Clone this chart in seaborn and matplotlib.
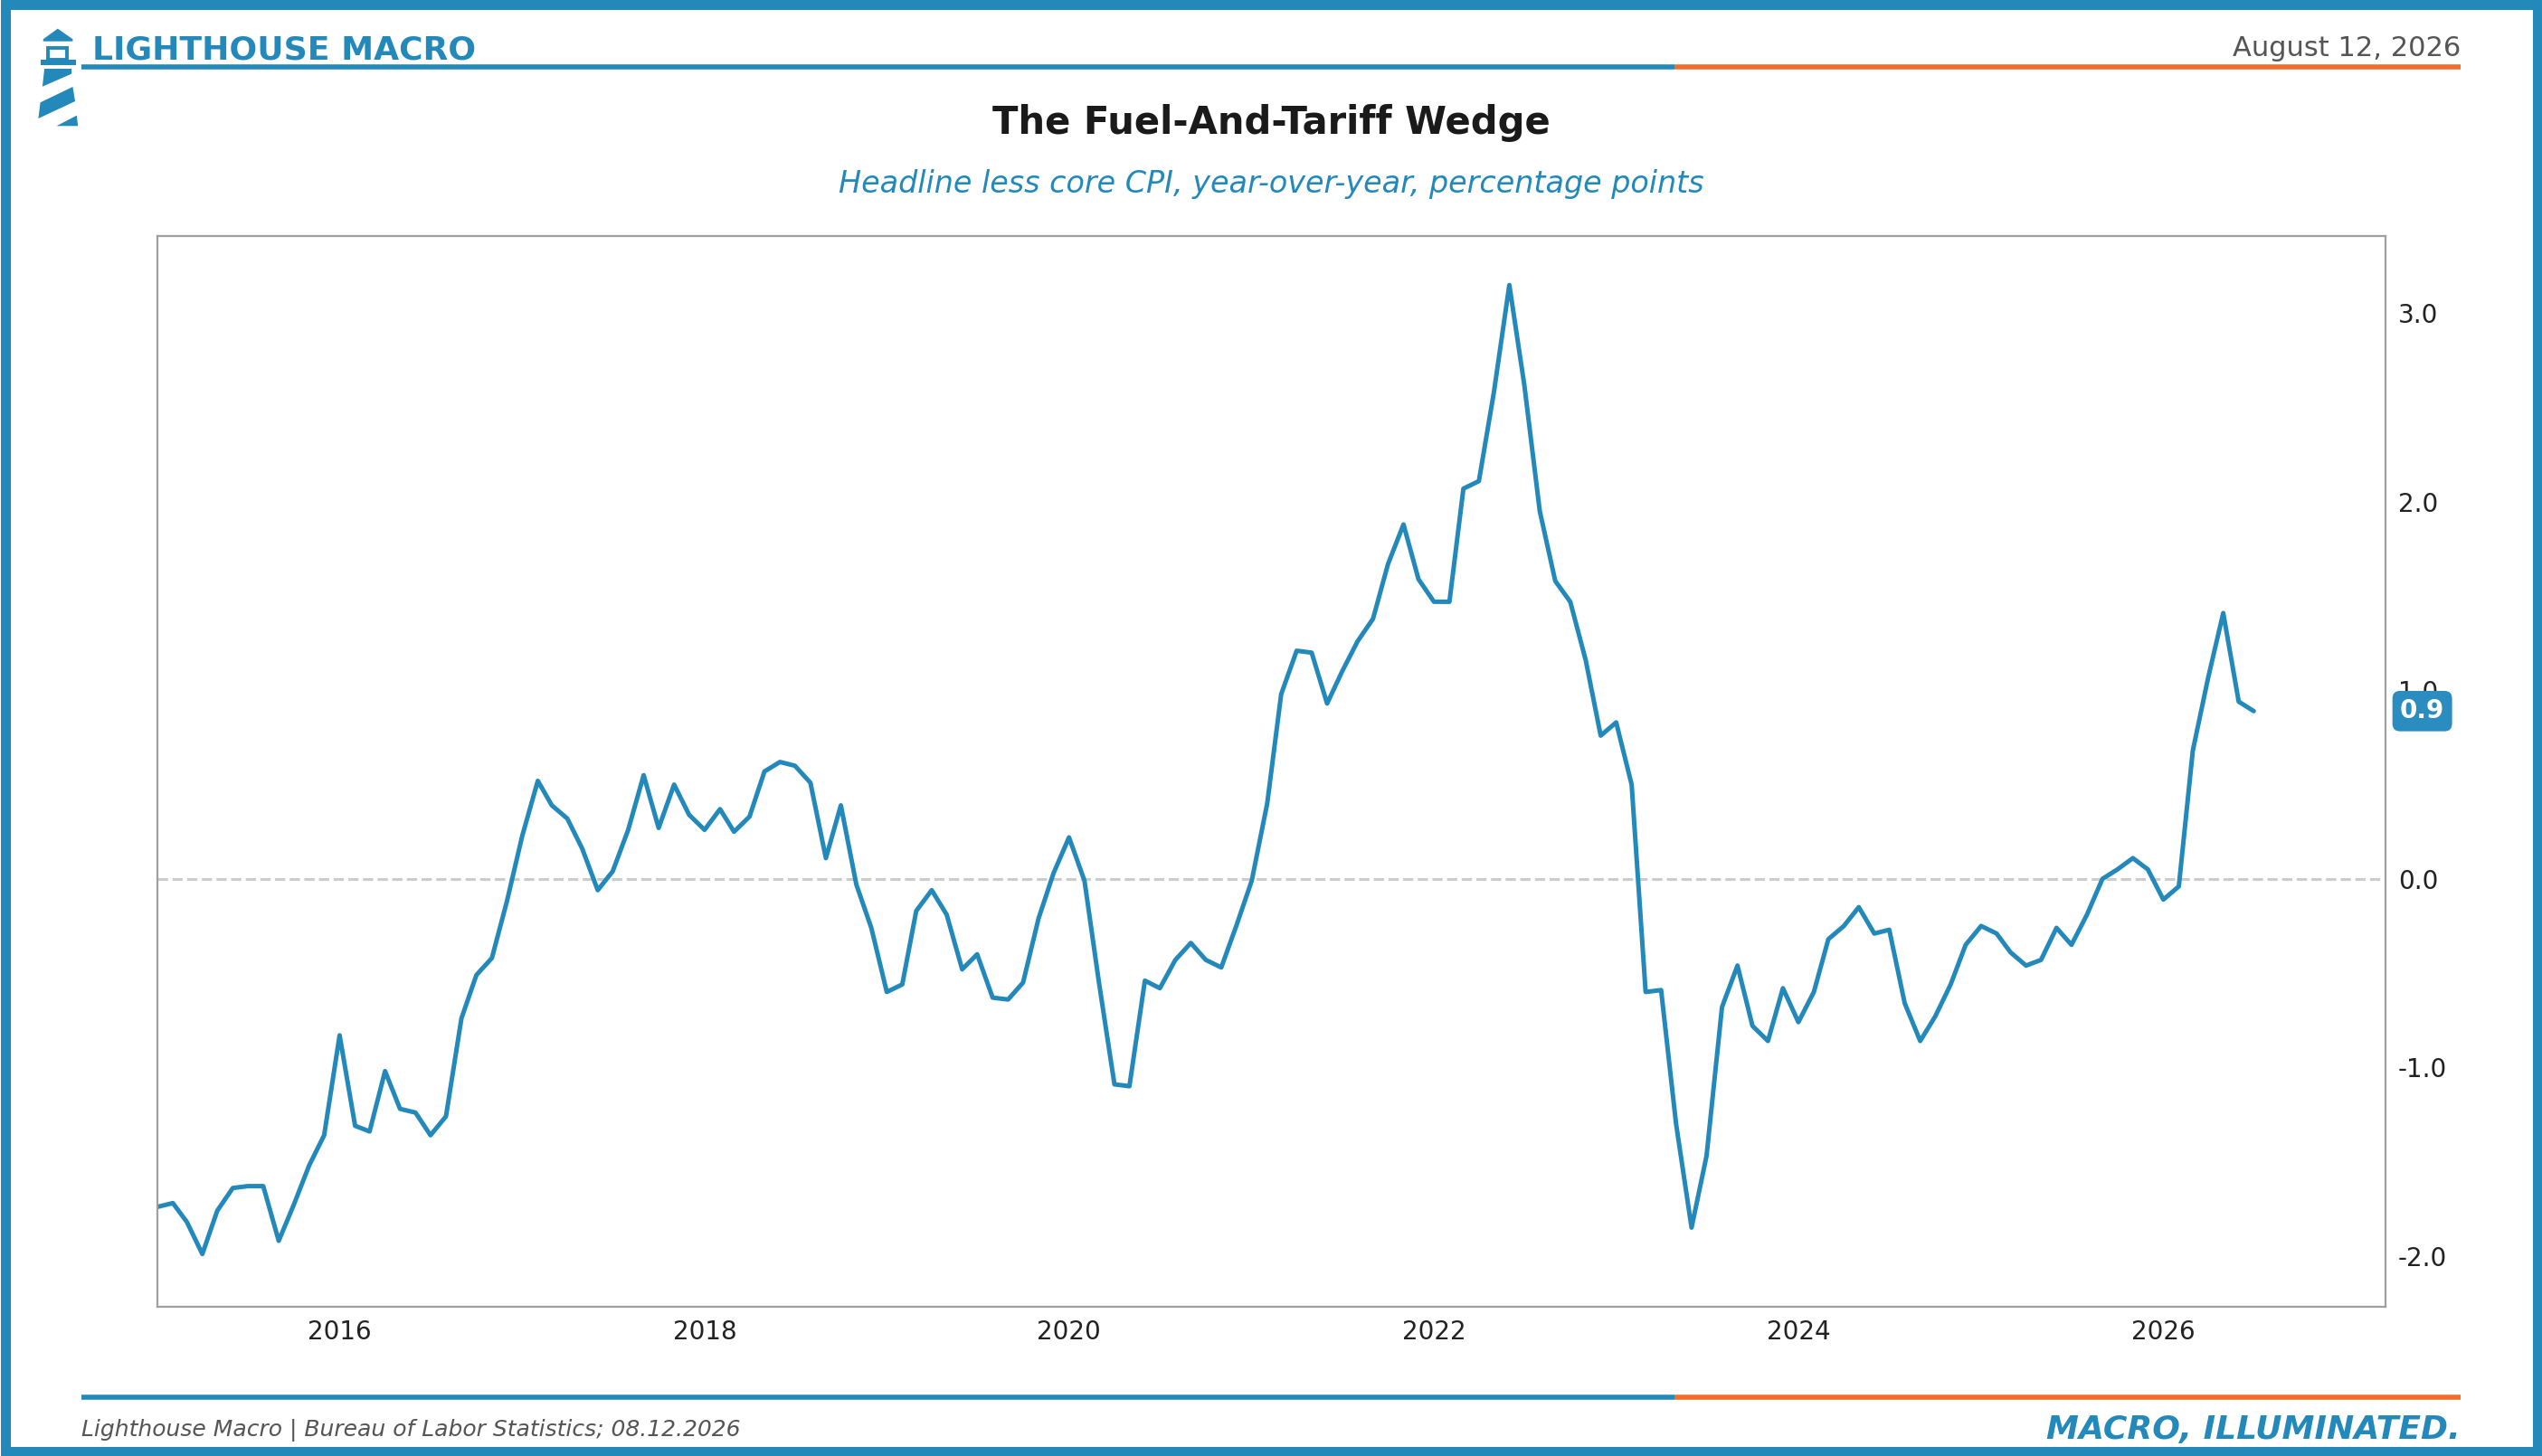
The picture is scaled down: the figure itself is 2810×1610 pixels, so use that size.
import numpy as np
import pandas as pd
import matplotlib.pyplot as plt
import matplotlib.dates as mdates
from matplotlib.patches import Rectangle, Polygon
import seaborn as sns

# headline less core CPI, yoy, pp -- monthly from Jan 2015
y2015 = [-1.74, -1.72, -1.82, -1.99, -1.76, -1.64, -1.63, -1.63, -1.92, -1.73, -1.52, -1.36]
y2016 = [-0.83, -1.31, -1.34, -1.02, -1.22, -1.24, -1.36, -1.26, -0.74, -0.51, -0.42, -0.12]
y2017 = [0.23, 0.52, 0.39, 0.32, 0.16, -0.06, 0.04, 0.26, 0.55, 0.27, 0.50, 0.34]
y2018 = [0.26, 0.37, 0.25, 0.33, 0.57, 0.62, 0.60, 0.51, 0.11, 0.39, -0.03, -0.26]
y2019 = [-0.60, -0.56, -0.17, -0.06, -0.19, -0.48, -0.40, -0.63, -0.64, -0.55, -0.21, 0.03]
y2020 = [0.22, -0.01, -0.55, -1.09, -1.10, -0.54, -0.58, -0.43, -0.34, -0.43, -0.47, -0.25]
y2021 = [-0.01, 0.40, 0.98, 1.21, 1.20, 0.93, 1.10, 1.26, 1.38, 1.67, 1.88, 1.59]
y2022 = [1.47, 1.47, 2.07, 2.11, 2.58, 3.15, 2.62, 1.95, 1.58, 1.47, 1.16, 0.76]
y2023 = [0.83, 0.50, -0.60, -0.59, -1.30, -1.85, -1.47, -0.68, -0.46, -0.78, -0.86, -0.58]
y2024 = [-0.76, -0.60, -0.32, -0.25, -0.15, -0.29, -0.27, -0.66, -0.86, -0.73, -0.56, -0.35]
y2025 = [-0.25, -0.29, -0.39, -0.46, -0.43, -0.26, -0.35, -0.19, 0.00, 0.05, 0.11, 0.05]
y2026 = [-0.11, -0.04, 0.68, 1.07, 1.41, 0.94, 0.89]

values = y2015 + y2016 + y2017 + y2018 + y2019 + y2020 + y2021 + y2022 + y2023 + y2024 + y2025 + y2026
dates = pd.date_range("2015-01-01", periods=len(values), freq="MS")
df = pd.DataFrame({"date": dates, "wedge": values})

year_ticks = [2016, 2018, 2020, 2022, 2024, 2026]
y_ticks = [-2.0, -1.0, 0.0, 1.0, 2.0, 3.0]

title = "The Fuel-And-Tariff Wedge"
subtitle = "Headline less core CPI, year-over-year, percentage points"
source = "Lighthouse Macro | Bureau of Labor Statistics; 08.12.2026"
date_str = "August 12, 2026"

BLUE = "#2388BA"
ORANGE = "#F26C2B"

sns.set_theme(style="white")
plt.rcParams["font.family"] = ["DejaVu Sans"]

W, H = 2810, 1610
fig = plt.figure(figsize=(W / 200, H / 200), dpi=200)
fig.patch.set_facecolor("white")

ax = fig.add_axes([174 / W, 1 - 1445 / H, (2637 - 174) / W, (1445 - 261) / H])
sns.lineplot(data=df, x="date", y="wedge", ax=ax, color=BLUE, lw=1.8)
ax.axhline(0, color="#cccccc", lw=1.1, ls="--", zorder=1)

ax.set_xlim(pd.Timestamp("2015-01-01"), pd.Timestamp("2027-03-22"))
ax.set_ylim(-2.27, 3.41)
ax.set_xticks([pd.Timestamp(f"{y}-01-01") for y in year_ticks])
ax.xaxis.set_major_formatter(mdates.DateFormatter("%Y"))
ax.set_yticks(y_ticks)
ax.set_yticklabels([f"{v:.1f}" for v in y_ticks])
ax.yaxis.tick_right()
ax.tick_params(axis="both", length=0, pad=5, labelsize=10, labelcolor="#222222")
ax.set_xlabel("")
ax.set_ylabel("")
for s in ax.spines.values():
    s.set_color("#a0a0a0")
    s.set_linewidth(0.8)

# last value badge
last = values[-1]
ax.text(1.0065, last, f"{last:.1f}", transform=ax.get_yaxis_transform(),
        ha="left", va="center", fontsize=10, fontweight="bold", color="white",
        bbox=dict(boxstyle="round,pad=0.3", fc="#2B8CC0", ec="none"), clip_on=False)

# decoration layer in pixel coords
deco = fig.add_axes([0, 0, 1, 1], zorder=5)
deco.set_xlim(0, W)
deco.set_ylim(H, 0)
deco.axis("off")
deco.patch.set_alpha(0)

deco.add_patch(Rectangle((5.5, 5.5), W - 11, H - 11, fill=False, ec=BLUE, lw=11 * 72 / 200))

split = 1851
for yy in (74, 1545):
    deco.plot([90, split], [yy, yy], color=BLUE, lw=2.0, solid_capstyle="butt")
    deco.plot([split, 2720], [yy, yy], color=ORANGE, lw=2.0, solid_capstyle="butt")

# lighthouse logo
logo = [
    [(47.8, 43.3), (63.8, 31.7), (80.4, 43.3), (80.4, 45.7), (47.8, 45.7)],
    [(49.1, 76), (79, 76), (79, 81.7), (46.9, 95.7)],
    [(80.4, 96), (83, 112), (42.4, 131), (44.6, 113.3)],
    [(84.8, 127.7), (86.2, 139.3), (62.5, 139.3)],
]
for pts in logo:
    deco.add_patch(Polygon(pts, closed=True, fc=BLUE, ec="none"))
deco.add_patch(Rectangle((44.6, 66), 38.9, 5.7, fc=BLUE, ec="none"))
deco.add_patch(Rectangle((52.5, 53), 21.5, 13, fill=False, ec=BLUE, lw=1.4))

deco.text(102, 65, "LIGHTHOUSE MACRO", ha="left", va="baseline", fontsize=13,
          fontweight="bold", color=BLUE)
deco.text(2720, 53, date_str, ha="right", va="center", fontsize=11, color="#555555")
deco.text(W / 2, 136, title, ha="center", va="center", fontsize=15,
          fontweight="bold", color="#1a1a1a")
deco.text(W / 2, 203, subtitle, ha="center", va="center", fontsize=12,
          style="italic", color=BLUE)
deco.text(90, 1581, source, ha="left", va="center", fontsize=9, style="italic",
          color="#555555")
deco.text(2720, 1581, "MACRO, ILLUMINATED.", ha="right", va="center", fontsize=13,
          fontweight="bold", style="italic", color=BLUE)

fig.savefig("out.png", dpi=200)
